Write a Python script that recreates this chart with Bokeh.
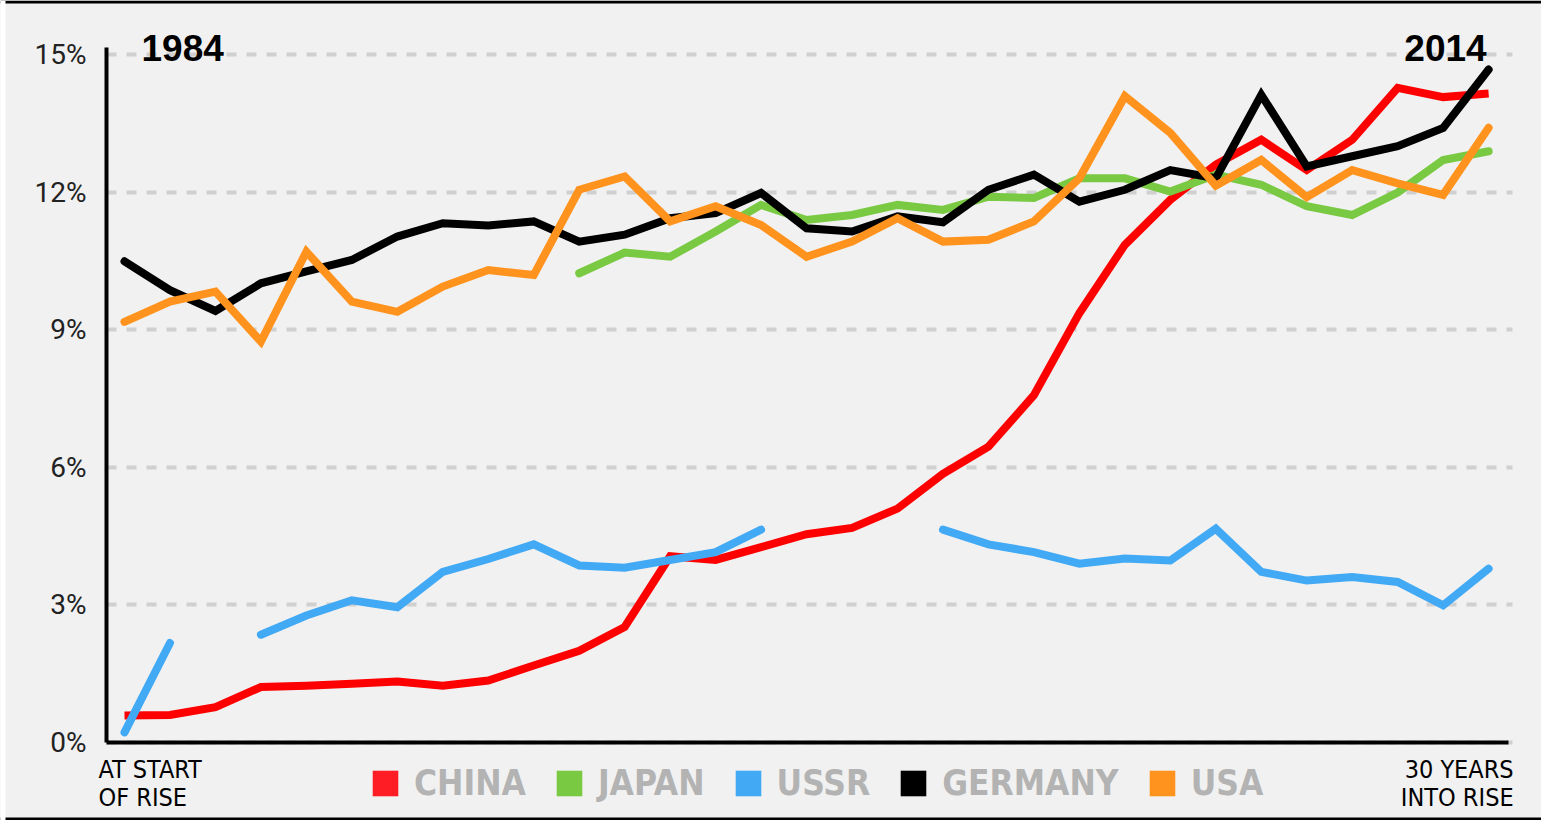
import math
import numpy as np
from bokeh.plotting import figure
from bokeh.models import (Range1d, FixedTicker, Label, BoxAnnotation, Legend, LegendItem)
from bokeh.embed import file_html
from bokeh.resources import INLINE

NaN = math.nan

# ---------------- data ----------------
years_into_rise = list(range(31))
china = [0.59, 0.60, 0.77, 1.21, 1.24, 1.28, 1.33, 1.24, 1.35, 1.68, 2.00, 2.52, 4.06, 3.98,
         4.26, 4.54, 4.68, 5.10, 5.86, 6.45, 7.57, 9.36, 10.85, 11.83, 12.60, 13.14, 12.48,
         13.14, 14.27, 14.07, 14.15]
japan = [NaN] * 10 + [10.23, 10.68, 10.59, 11.14, 11.72, 11.39, 11.50, 11.72, 11.61, 11.90,
                      11.87, 12.30, 12.30, 12.01, 12.38, 12.16, 11.69, 11.50, 11.99, 12.70, 12.89]
ussr = [0.22, 2.17, NaN, 2.35, 2.77, 3.10, 2.95, 3.72, 4.00, 4.32, 3.86, 3.81, 3.98, 4.15, 4.64,
        NaN, NaN, NaN, 4.64, 4.32, 4.15, 3.90, 4.01, 3.97, 4.66, 3.72, 3.53, 3.61, 3.50, 2.99, 3.79]
germany = [10.49, 9.86, 9.41, 10.01, 10.27, 10.52, 11.03, 11.32, 11.27, 11.36, 10.92, 11.07,
           11.43, 11.54, 11.98, 11.21, 11.14, 11.47, 11.34, 12.05, 12.38, 11.79, 12.05, 12.48,
           12.30, 14.12, 12.56, 12.78, 13.00, 13.40, 14.67]
usa = [9.17, 9.61, 9.83, 8.74, 10.70, 9.61, 9.39, 9.94, 10.30, 10.19, 12.05, 12.34, 11.36, 11.69,
       11.28, 10.59, 10.92, 11.43, 10.92, 10.96, 11.36, 12.30, 14.09, 13.29, 12.14, 12.70, 11.89,
       12.48, 12.19, 11.94, 13.40]

series_names = ["CHINA", "JAPAN", "USSR", "GERMANY", "USA"]
series_values = [china, japan, ussr, germany, usa]
series_colors = ["#ff0000", "#7ac943", "#42a9f5", "#000000", "#ff931e"]
legend_colors = ["#ff1d25", "#7ac943", "#42a9f5", "#000000", "#ff931e"]

y_ticks = [0, 3, 6, 9, 12, 15]
y_tick_labels = ["0%", "3%", "6%", "9%", "12%", "15%"]
start_year = "1984"
end_year = "2014"
start_label = "AT START\nOF RISE"
end_label = "30 YEARS\nINTO RISE"

NARROW = "'Liberation Sans Narrow', 'DejaVu Sans Condensed', Roboto"
BG = "#f1f1f1"
W, H = 1541, 820

# axis placement (data units) and plotted extents
Y_AXIS_AT = -0.396
X_END = 30.44
Y_TOP = 15.15

# ---------------- figure ----------------
p = figure(width=W, height=H, output_backend="svg", toolbar_location=None,
           x_range=Range1d(-2.727, 31.163), y_range=Range1d(-1.700, 16.176),
           min_border=0, min_border_left=0, min_border_right=0, min_border_top=0,
           min_border_bottom=0,
           background_fill_color=BG, border_fill_color=BG, outline_line_color=None)

# axes (placed inside the frame)
p.xaxis.fixed_location = 0
p.xaxis.bounds = (Y_AXIS_AT, X_END)
p.xaxis.ticker = FixedTicker(ticks=[])
p.xaxis.major_label_text_font_size = "0px"
p.xaxis.major_tick_out = 0
p.xaxis.minor_tick_out = 0
p.xaxis.axis_line_width = 4
p.xaxis.axis_line_color = "black"

p.yaxis.fixed_location = Y_AXIS_AT
p.yaxis.bounds = (0, Y_TOP)
p.yaxis.ticker = FixedTicker(ticks=y_ticks)
p.yaxis.major_label_overrides = {t: l for t, l in zip(y_ticks, y_tick_labels)}
p.yaxis.major_label_text_font = "Roboto"
p.yaxis.major_label_text_font_size = "28px"
p.yaxis.major_label_text_color = "#222222"
p.yaxis.major_label_standoff = 20
p.yaxis.major_tick_out = 0
p.yaxis.major_tick_in = 0
p.yaxis.minor_tick_out = 0
p.yaxis.minor_tick_in = 0
p.yaxis.axis_line_width = 4
p.yaxis.axis_line_color = "black"

# grid
p.xgrid.visible = False
p.ygrid.ticker = FixedTicker(ticks=y_ticks)
p.ygrid.cross_bounds = (Y_AXIS_AT, 30.53)
p.ygrid.grid_line_color = "#d0d0d0"
p.ygrid.grid_line_width = 4
p.ygrid.grid_line_dash = "10 10"

# lines
for name, vals, col in zip(series_names, series_values, series_colors):
    p.line(years_into_rise, np.array(vals, dtype=float), line_color=col, line_width=8,
           line_join="miter", line_cap="butt" if name == "CHINA" else "round")

# legend (square swatches from hidden one-row quads of each series)
items = []
for name, vals, col in zip(series_names, series_values, legend_colors):
    arr = np.array(vals, dtype=float)
    i0 = int(np.where(~np.isnan(arr))[0][0])
    r = p.quad(left=[years_into_rise[i0]], right=[years_into_rise[i0]], top=[arr[i0]],
               bottom=[arr[i0]], fill_color=col, line_color=None, visible=False)
    items.append(LegendItem(label=name, renderers=[r]))
legend = Legend(items=items, orientation="horizontal", location=(369, 17),
                glyph_width=32, glyph_height=32, label_standoff=13, spacing=27,
                padding=0, margin=0, background_fill_alpha=0, border_line_alpha=0,
                label_text_font=NARROW, label_text_font_size="35px",
                label_text_font_style="bold", label_text_color="#b3b3b3")
p.add_layout(legend)

# year labels
p.add_layout(Label(x=0, y=15, text=start_year, text_font="'Liberation Sans', Arial",
                   text_font_style="bold", text_font_size="37px", text_align="left",
                   text_baseline="alphabetic", x_offset=17, y_offset=6, text_color="black"))
p.add_layout(Label(x=30, y=15, text=end_year, text_font="'Liberation Sans', Arial",
                   text_font_style="bold", text_font_size="37px", text_align="right",
                   text_baseline="alphabetic", x_offset=-2, y_offset=6, text_color="black"))

# x end labels
p.add_layout(Label(x=0, y=0, text=start_label, text_font=NARROW, text_font_size="25px",
                   text_align="left", text_baseline="top", x_offset=-26, y_offset=-12,
                   text_line_height=0.97, text_color="black"))
p.add_layout(Label(x=30, y=0, text=end_label, text_font=NARROW, text_font_size="25px",
                   text_align="right", text_baseline="top", x_offset=25, y_offset=-12,
                   text_line_height=0.97, text_color="black"))

# frame rules (top / bottom black rules, white left strip)
def canvas_box(l, r, t, b, color):
    return BoxAnnotation(left=l, right=r, top=t, bottom=b, left_units="canvas",
                         right_units="canvas", top_units="canvas", bottom_units="canvas",
                         fill_color=color, fill_alpha=1, line_color=None, level="overlay")

p.add_layout(canvas_box(0, W, 0, 3, "black"))
p.add_layout(canvas_box(0, W, H - 3, H, "black"))
p.add_layout(canvas_box(0, 5, 0, H, "white"))

open("out.html", "w").write(file_html(p, INLINE))
